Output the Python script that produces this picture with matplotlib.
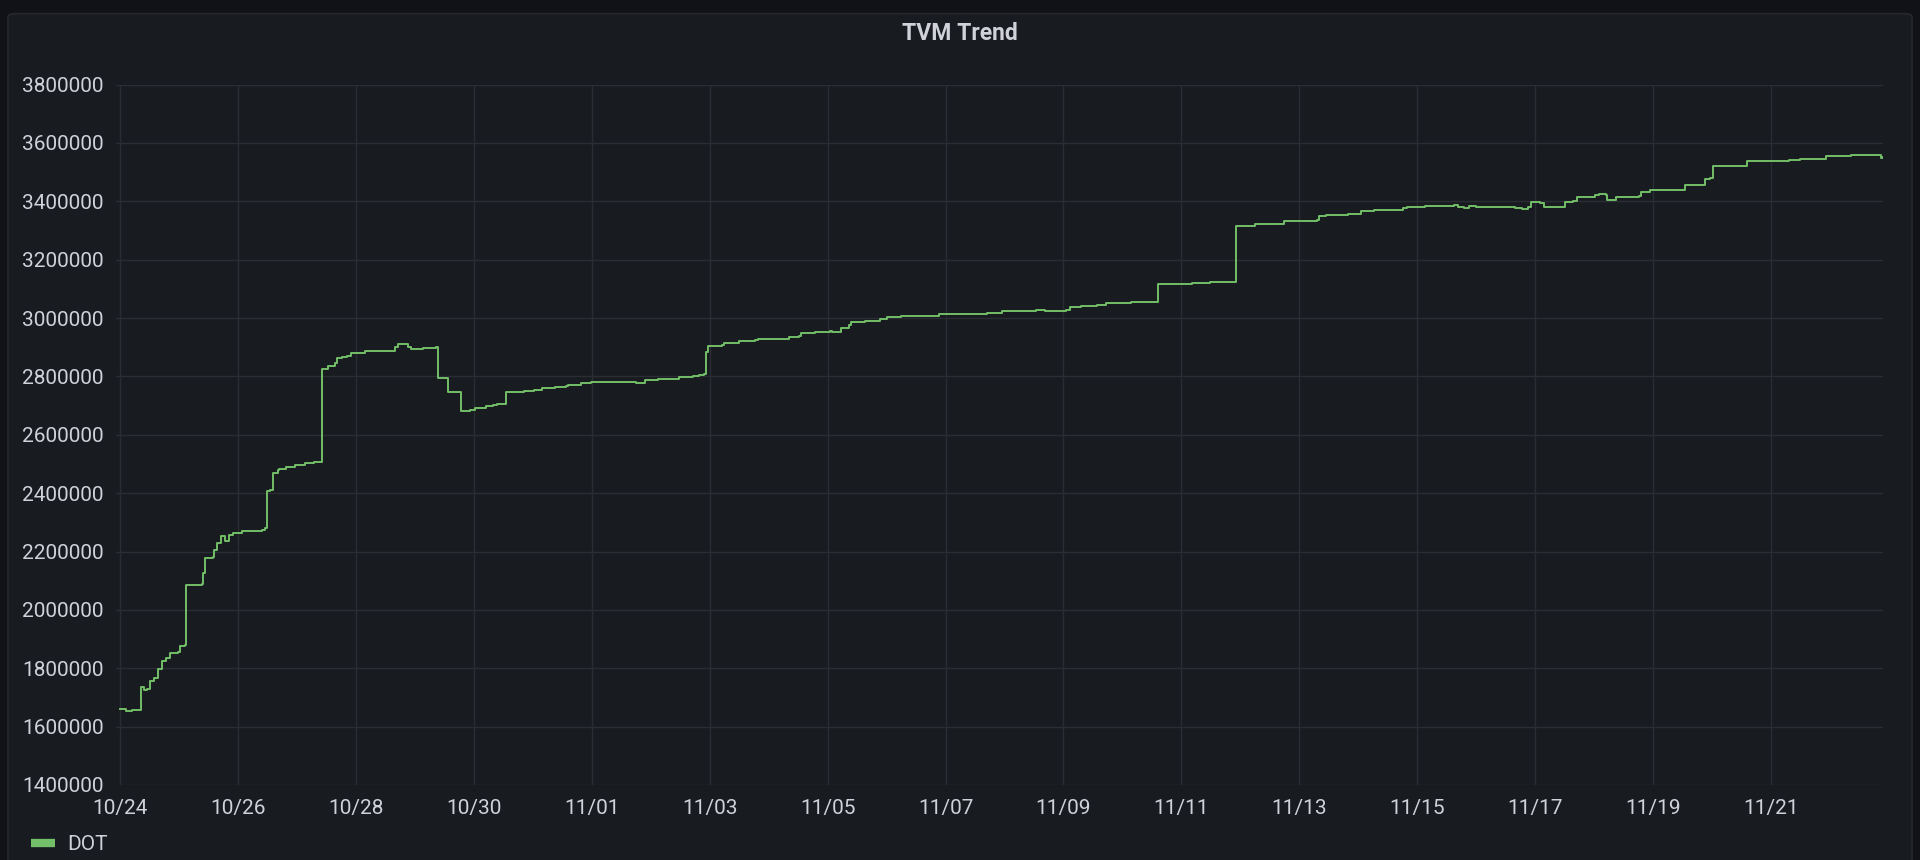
import matplotlib
matplotlib.use("Agg")
import matplotlib.pyplot as plt
import matplotlib.dates as mdates
from matplotlib.patches import FancyBboxPatch
import pandas as pd

# series start (10/24 00:00) and time offsets in days
start = pd.Timestamp("2023-10-24")
days = [0.00, 0.08, 0.10, 0.20, 0.33, 0.35, 0.40, 0.46, 0.50, 0.58, 0.65, 0.71, 0.78, 0.84, 0.98,
        1.01, 1.10, 1.12, 1.39, 1.41, 1.44, 1.57, 1.60, 1.65, 1.71, 1.75, 1.78, 1.85, 1.91, 2.06,
        2.29, 2.40, 2.46, 2.49, 2.54, 2.59, 2.67, 2.70, 2.82, 2.97, 3.13, 3.28, 3.40, 3.42, 3.52,
        3.64, 3.67, 3.77, 3.85, 3.92, 4.00, 4.15, 4.61, 4.66, 4.71, 4.80, 4.89, 4.93, 5.10, 5.13,
        5.35, 5.37, 5.39, 5.54, 5.56, 5.77, 5.79, 5.94, 6.02, 6.20, 6.32, 6.40, 6.52, 6.54, 6.70,
        6.85, 7.02, 7.12, 7.16, 7.38, 7.57, 7.60, 7.82, 7.98, 8.10, 8.75, 8.90, 9.12, 9.48, 9.72,
        9.82, 9.90, 9.93, 9.97, 10.20, 10.24, 10.50, 10.76, 10.82, 11.19, 11.34, 11.52, 11.55, 11.79, 12.04,
        12.07, 12.16, 12.22, 12.37, 12.40, 12.64, 12.89, 13.01, 13.25, 13.65, 13.89, 14.29, 14.71, 14.95, 15.53,
        15.68, 16.05, 16.11, 16.29, 16.57, 16.72, 16.90, 16.99, 17.14, 17.32, 17.58, 17.60, 17.94, 18.18, 18.48,
        18.89, 18.93, 19.25, 19.70, 19.74, 19.86, 20.30, 20.34, 20.45, 20.82, 21.05, 21.27, 21.68, 21.76, 21.83,
        22.13, 22.54, 22.62, 22.69, 22.80, 22.88, 22.99, 23.66, 23.78, 23.88, 23.93, 24.08, 24.15, 24.41, 24.50,
        24.64, 24.71, 24.93, 25.01, 25.08, 25.20, 25.22, 25.35, 25.37, 25.76, 25.79, 25.91, 25.94, 26.52, 26.54,
        26.84, 26.88, 26.97, 27.01, 27.55, 27.59, 28.26, 28.30, 28.49, 28.90, 28.93, 29.35, 29.83, 29.86, 29.90]
# TVM in thousands of DOT
tvm_k = [1662, 1662, 1655, 1657, 1658, 1735, 1727, 1729, 1755, 1767, 1796, 1824, 1835, 1852, 1856,
         1875, 1879, 2085, 2088, 2128, 2179, 2180, 2205, 2228, 2253, 2253, 2237, 2256, 2264, 2269,
         2270, 2275, 2279, 2406, 2410, 2470, 2478, 2481, 2491, 2497, 2504, 2507, 2507, 2825, 2836,
         2845, 2862, 2868, 2871, 2879, 2881, 2887, 2887, 2902, 2910, 2910, 2902, 2894, 2894, 2896,
         2899, 2902, 2796, 2796, 2745, 2745, 2682, 2685, 2692, 2697, 2703, 2706, 2706, 2745, 2748,
         2751, 2754, 2754, 2759, 2763, 2766, 2772, 2776, 2781, 2780, 2779, 2786, 2791, 2797, 2800,
         2806, 2808, 2885, 2905, 2908, 2916, 2920, 2923, 2928, 2929, 2935, 2940, 2948, 2952, 2956,
         2952, 2952, 2966, 2975, 2986, 2991, 2995, 3002, 3006, 3008, 3014, 3015, 3017, 3024, 3028,
         3025, 3028, 3037, 3040, 3044, 3050, 3053, 3050, 3055, 3056, 3055, 3115, 3117, 3119, 3122,
         3122, 3315, 3321, 3321, 3331, 3334, 3335, 3350, 3354, 3358, 3365, 3369, 3371, 3377, 3381,
         3383, 3384, 3386, 3381, 3377, 3384, 3379, 3378, 3375, 3381, 3398, 3395, 3381, 3382, 3398,
         3401, 3413, 3415, 3421, 3425, 3423, 3403, 3403, 3413, 3417, 3430, 3432, 3439, 3439, 3457,
         3457, 3475, 3478, 3521, 3522, 3537, 3538, 3541, 3544, 3546, 3554, 3557, 3557, 3549, 3552]

tick_dates = pd.date_range("2023-10-24", "2023-11-21", freq="2D")
y_ticks = list(range(1400000, 3800001, 200000))

times = [start + pd.Timedelta(days=d) for d in days]
values = [v * 1000 for v in tvm_k]

bg = "#111217"
panel = "#181b1f"
green = "#73bf69"
txt = "#d0d1d9"
grid = "#2a2d33"

plt.rcParams['font.family'] = ['Roboto', 'DejaVu Sans']

fig = plt.figure(figsize=(19.2, 8.6), dpi=100, facecolor=bg)

# panel box
box = FancyBboxPatch((8 / 1920, -0.05), 1904 / 1920, 1.04 - 5 / 860,
                     boxstyle="round,pad=0,rounding_size=0.004",
                     transform=fig.transFigure, facecolor=panel, edgecolor="#25272c",
                     linewidth=1.2, zorder=0)
fig.patches.append(box)

ax = fig.add_axes([116 / 1920, 75 / 860, (1883 - 116) / 1920, (785 - 84.5) / 860])
ax.set_zorder(2)
ax.set_facecolor(panel)

ax.plot(times, values, color=green, linewidth=1.4, drawstyle="steps-post", label="DOT")

ax.set_xlim(start - pd.Timedelta(days=0.07), times[-1])
ax.set_ylim(1400000, 3800000)
ax.set_yticks(y_ticks)
ax.set_yticklabels([str(v) for v in y_ticks])
ax.set_xticks(tick_dates)
ax.xaxis.set_major_formatter(mdates.DateFormatter("%m/%d"))

ax.grid(True, color=grid, linewidth=1)
ax.set_axisbelow(True)
for s in ax.spines.values():
    s.set_visible(False)
ax.tick_params(axis="both", length=0, colors=txt, labelsize=15)
ax.tick_params(axis="y", pad=9)
ax.tick_params(axis="x", pad=10)

fig.text(0.5, 1 - 33 / 860, "TVM Trend", ha="center", va="center",
         color=txt, fontsize=16.5, fontweight="bold", zorder=3)

leg = ax.legend(loc="center left", bbox_to_anchor=(12 / 1920, 15 / 860),
                bbox_transform=fig.transFigure, frameon=False, fontsize=15,
                handlelength=1.15, handletextpad=0.6, labelcolor=txt)
leg.get_lines()[0].set_linewidth(6)
leg.get_lines()[0].set_solid_capstyle("butt")

fig.savefig("out.png", dpi=100, facecolor=bg)
